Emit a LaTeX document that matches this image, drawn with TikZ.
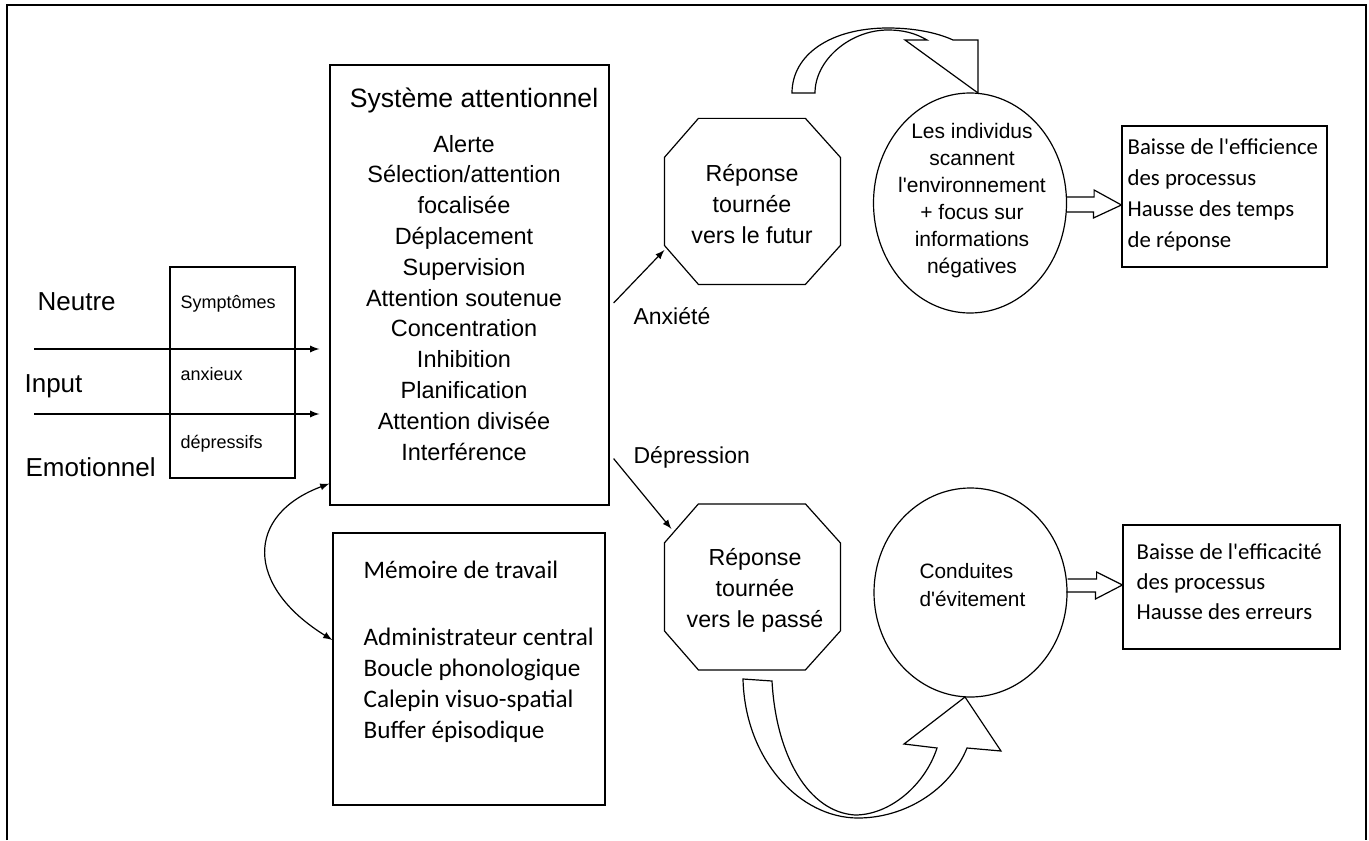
\documentclass[tikz,border=0pt]{standalone}
\usepackage{fontspec}
\setmainfont{Liberation Sans}
\newfontfamily\calib{Carlito}
\usetikzlibrary{shapes.geometric}

\begin{document}
\begin{tikzpicture}[x=0.5pt,y=-0.5pt,line width=0.6pt,
  box/.style={draw,inner sep=0pt},
  item/.style={inner sep=0pt,anchor=base,font=\fontsize{11.75}{14}\selectfont},
  gauche/.style={inner sep=0pt,anchor=base west},
  cal/.style={gauche,font=\calib\fontsize{11.4}{14}\selectfont},
  octo/.style={inner sep=0pt,minimum width=88pt,minimum height=83pt},
  rond/.style={draw,ellipse,inner sep=0pt,minimum width=96.5pt},
  fleche/.style={-latex}]
\useasboundingbox (0,0) rectangle (1369,840);
% cadre
\draw[line width=1pt] (7,840) -- (7,5) -- (1366,5) -- (1366,840);

% boites
\node[box,minimum width=139.5pt,minimum height=220pt] (sys) at (469.5,285) {};
\node[box,minimum width=136pt,minimum height=136pt] (mem) at (469,669) {};
\node[box,minimum width=62.5pt,minimum height=105.5pt] (sympt) at (232.5,372.5) {};
\node[box,minimum width=102.5pt,minimum height=70.5pt] (effi) at (1224.5,196.5) {};
\node[box,minimum width=108.5pt,minimum height=62pt] (effa) at (1231.5,587) {};

% input
\node[gauche,font=\fontsize{13}{15}\selectfont] (neutre) at (37,310) {Neutre};
\node[gauche,font=\fontsize{13}{15}\selectfont] (input) at (24,392) {Input};
\node[gauche,font=\fontsize{13}{15}\selectfont] (emo) at (25,476) {Emotionnel};
\node[gauche,font=\fontsize{9}{11}\selectfont] (sy1) at (180,308) {Symptômes};
\node[gauche,font=\fontsize{9}{11}\selectfont] (sy2) at (180,380) {anxieux};
\node[gauche,font=\fontsize{9}{11}\selectfont] (sy3) at (180,448) {dépressifs};
\coordinate (in1) at (34,349);
\coordinate (in2) at (34,414);
\foreach \c in {in1,in2}
  \draw[fleche,shorten >=5pt] (\c) -- (\c -| sys.west);

% systeme attentionnel
\node[item,font=\fontsize{13.3}{15}\selectfont] (systitre) at (474,108) {Système attentionnel};
\foreach \ligne [count=\rang] in {Alerte,Sélection/attention,focalisée,Déplacement,Supervision,Attention soutenue,Concentration,Inhibition,Planification,Attention divisée,Interférence}
  \node[item] (att\rang) at (464,121.2+30.8*\rang) {\ligne};

% memoire de travail
\node[gauche,font=\calib\fontsize{12.6}{15}\selectfont] (memtitre) at (363,578) {Mémoire de travail};
\foreach \ligne [count=\rang] in {Administrateur central,Boucle phonologique,Calepin visuo-spatial,Buffer épisodique}
  \node[gauche,font=\calib\fontsize{12.6}{15}\selectfont] (mem\rang) at (363,614+31*\rang) {\ligne};
\draw[latex-latex] ([yshift=11pt]sys.south west) .. controls (245,515) and (245,586) .. ([yshift=14.5pt]mem.west);

% octogones
\node[octo] (futur) at (753,202) {};
\node[octo] (passe) at (753,587.5) {};
\foreach \o in {futur,passe}
  \draw (\o.north west) ++(34,0) -- ++(107,0) -- ++(35,39) -- ++(0,88) -- ++(-35,39)
    -- ++(-107,0) -- ++(-34,-39) -- ++(0,-88) -- cycle;
\foreach \ligne [count=\rang] in {Réponse,tournée,vers le futur}
  \node[item,font=\fontsize{11.6}{14}\selectfont] (futur\rang) at (752,150+31*\rang) {\ligne};
\foreach \ligne [count=\rang] in {Réponse,tournée,vers le passé}
  \node[item,font=\fontsize{11.6}{14}\selectfont] (passe\rang) at (755,535+30.7*\rang) {\ligne};
\draw[fleche] ([xshift=2pt,yshift=-9pt]sys.east) -- ([yshift=-24pt]futur.west);
\draw[fleche] ([xshift=2pt,yshift=23.5pt]sys.south east) -- ([xshift=3.5pt,yshift=-12.5pt]passe.north west);
\node[gauche,font=\fontsize{11.5}{14}\selectfont] (anx) at (633,324) {Anxiété};
\node[gauche,font=\fontsize{11.5}{14}\selectfont] (dep) at (633,463) {Dépression};

% cercles
\node[rond,minimum height=110pt] (scan) at (970,203) {};
\foreach \ligne [count=\rang] in {Les individus,scannent,l\textquotesingle environnement,+ focus sur,informations,négatives}
  \node[item,font=\fontsize{10.5}{13}\selectfont] (scan\rang) at (972,111+27*\rang) {\ligne};
\node[rond,minimum height=104.5pt] (evit) at (970.5,592.5) {};
\node[gauche,font=\fontsize{10.4}{13}\selectfont] (evit1) at (919,578) {Conduites};
\node[gauche,font=\fontsize{10.4}{13}\selectfont] (evit2) at (919,606) {d\textquotesingle évitement};

% fleches courbes
\draw (792,93) .. controls (792,55) and (830,28) .. (888,28) .. controls (918,28) and (940,34) .. (953,40)
  -- (978,40) -- (978,93) -- (905,40) -- (927,40)
  .. controls (915,33) and (903,30) .. (888,30) .. controls (850,30) and (815,60) .. (815,93) -- cycle;
\draw (743,679) .. controls (745,760) and (800,818) .. (858,818) .. controls (905,818) and (950,790) .. (967,748)
  -- (1001,751) -- (965,697) -- (904,744) -- (937,748)
  .. controls (925,785) and (890,815) .. (855,815) .. controls (808,812) and (776,755) .. (772,681) -- cycle;

% fleches creuses
\draw ([yshift=3pt]scan.east) -- ++(27,0) -- ++(0,-7) -- ([yshift=-4.25pt]effi.west)
  -- ++(-28,13) -- ++(0,-6) -- ++(-27,0);
\draw ([yshift=6.75pt]evit.east) -- ++(29,0) -- ++(0,-7) -- ([yshift=1pt]effa.west)
  -- ++(-27,14) -- ++(0,-7) -- ++(-29,0);

% effets
\foreach \ligne [count=\rang] in {Baisse de l\textquotesingle efficience,des processus,Hausse des temps,de réponse}
  \node[cal] (effi\rang) at (1127,124.2+30.8*\rang) {\ligne};
\foreach \ligne [count=\rang] in {Baisse de l\textquotesingle efficacité,des processus,Hausse des erreurs}
  \node[cal] (effa\rang) at (1136,529+30*\rang) {\ligne};
\end{tikzpicture}
\end{document}
